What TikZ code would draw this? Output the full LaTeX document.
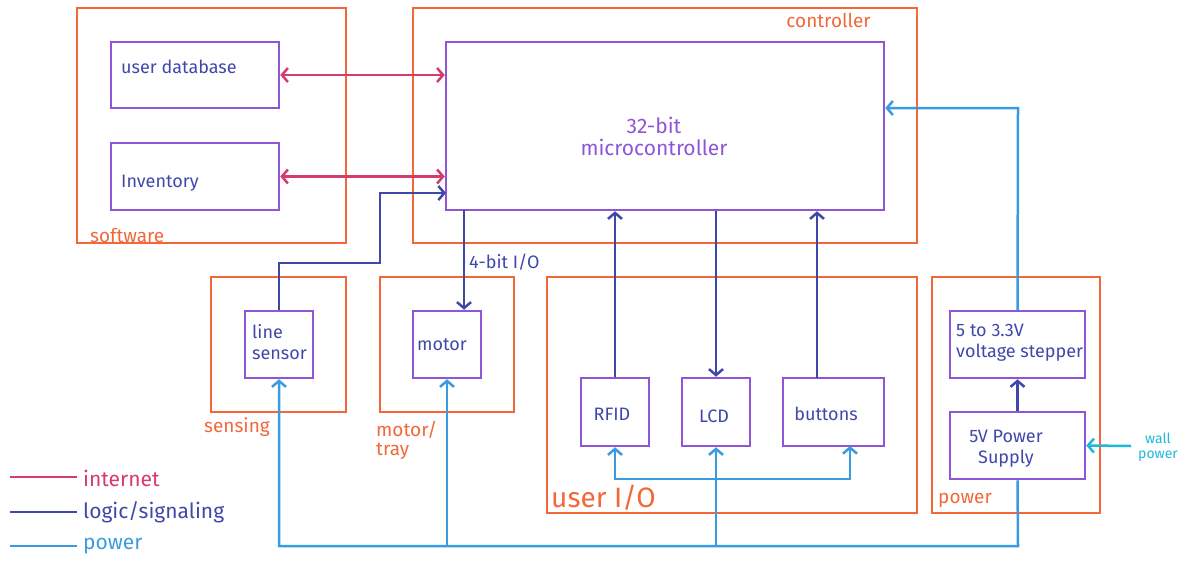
\documentclass[tikz,border=0pt]{standalone}
\usepackage{fontspec}
\setmainfont{Fira Sans}
\usetikzlibrary{arrows.meta}
\definecolor{grp}{HTML}{F2683A}
\definecolor{boxc}{HTML}{8E55D6}
\definecolor{logic}{HTML}{3F48AA}
\definecolor{inet}{HTML}{D63B6E}
\definecolor{pwr}{HTML}{3A9BE0}
\definecolor{wall}{HTML}{1FB8D8}
\tikzset{
  grpbox/.style={draw=grp, line width=2.5pt, inner sep=0pt, rectangle},
  pbox/.style={draw=boxc, line width=2.5pt, inner sep=0pt, rectangle},
  txt/.style={text=logic, font=\fontsize{18}{21}\selectfont, inner sep=0pt, align=left},
  glabel/.style={text=grp, font=\fontsize{19}{19}\selectfont, inner sep=0pt, align=left},
  barb/.tip={Straight Barb[length=6pt,width=14pt,line width=2.5pt]},
  inetline/.style={draw=inet, line width=2.5pt},
  logicline/.style={draw=logic, line width=2.5pt},
  pwrline/.style={draw=pwr, line width=2.5pt},
}
\begin{document}
\begin{tikzpicture}[x=1pt,y=-1pt]
\useasboundingbox (0,0) rectangle (1185,562);
% group boxes
\node[grpbox, minimum width=269pt, minimum height=235pt] (soft) at (211.5,125.5) {};
\node[grpbox, minimum width=504pt, minimum height=235pt] (ctrl) at (665,125.5) {};
\node[grpbox, minimum width=135pt, minimum height=135pt] (sens) at (278.5,344.5) {};
\node[grpbox, minimum width=134pt, minimum height=135pt] (mtray) at (447,344.5) {};
\node[grpbox, minimum width=370pt, minimum height=236pt] (uio) at (732,395) {};
\node[grpbox, minimum width=168pt, minimum height=236pt] (pwrg) at (1016,395) {};
% inner boxes
\node[pbox, minimum width=168pt, minimum height=66pt] (udb) at (195,75) {};
\node[pbox, minimum width=168pt, minimum height=67pt] (inv) at (195,176.5) {};
\node[pbox, minimum width=438pt, minimum height=168pt] (mcu) at (665,126) {};
\node[pbox, minimum width=68pt, minimum height=67pt] (ls) at (279,344.5) {};
\node[pbox, minimum width=68pt, minimum height=67pt] (motor) at (447,344.5) {};
\node[pbox, minimum width=68pt, minimum height=68pt] (rfid) at (615,412) {};
\node[pbox, minimum width=68pt, minimum height=68pt] (lcd) at (716,412) {};
\node[pbox, minimum width=101pt, minimum height=68pt] (btn) at (833.5,412) {};
\node[pbox, minimum width=135pt, minimum height=67pt] (step) at (1017.5,344.5) {};
\node[pbox, minimum width=135pt, minimum height=67pt] (sup) at (1017.5,445.5) {};
% texts
\node[txt, anchor=west] (tudb) at (121,67) {user database};
\node[txt, anchor=west] (tinv) at (121,183) {Inventory};
\node[txt, text=boxc, font=\fontsize{21}{22}\selectfont, align=center] (tmcu) at (654,136) {32-bit\\microcontroller};
\node[txt, anchor=west] (tls) at (252,342) {line\\sensor};
\node[txt, anchor=west] (tmot) at (417,345) {motor};
\node[txt] (trfid) at (612,414) {RFID};
\node[txt] (tlcd) at (714,416) {LCD};
\node[txt] (tbtn) at (826,414) {buttons};
\node[txt, anchor=west] (tstep) at (956,343) {5 to 3.3V\\voltage stepper};
\node[txt, align=center] (tsup) at (1006,449) {5V Power\\Supply};
\node[txt, anchor=west] (t4b) at (469,262) {4-bit I/O};
\node[glabel, anchor=west] (lsoft) at (90,235) {software};
\node[glabel, anchor=east] (lctrl) at (871,20) {controller};
\node[glabel, anchor=west] (lsens) at (204,427) {sensing};
\node[glabel, anchor=west] (lmt) at (376,440) {motor/\\tray};
\node[glabel, anchor=west, font=\fontsize{28}{30}\selectfont] (luio) at (551,498) {user I/O};
\node[glabel, anchor=west] (lpwr) at (938,500) {power};
\node[txt, text=wall, font=\fontsize{14}{15}\selectfont, align=center] (twall) at (1158,447) {wall\\power};
% legend
\coordinate (lg1a) at (10,477); \coordinate (lg1b) at (77,477);
\coordinate (lg2a) at (10,512); \coordinate (lg2b) at (77,512);
\coordinate (lg3a) at (10,546); \coordinate (lg3b) at (77,546);
\draw[inetline] (lg1a) -- (lg1b);
\draw[logicline] (lg2a) -- (lg2b);
\draw[pwrline] (lg3a) -- (lg3b);
\node[txt, text=inet, anchor=west, font=\fontsize{21}{22}\selectfont] (leg1) at (83,478) {internet};
\node[txt, anchor=west, font=\fontsize{21}{22}\selectfont] (leg2) at (83,512) {logic/signaling};
\node[txt, text=pwr, anchor=west, font=\fontsize{21}{22}\selectfont] (leg3) at (83,546) {power};
% internet connectors
\draw[inetline, barb-barb] (udb.east) -- (udb.east -| mcu.west);
\draw[inetline, barb-barb] (inv.east) -- (inv.east -| mcu.west);
% logic connectors
\coordinate (lsbend) at (380,263);
\coordinate (mcuin) at (446,193);
\draw[logicline, -barb] (ls.north) |- (lsbend) |- (mcuin);
\coordinate (mcuout) at (464,210);
\draw[logicline, -barb] (mcuout) -- (mcuout |- motor.north);
\draw[logicline, -barb] (rfid.north) -- (rfid.north |- mcu.south);
\draw[logicline, -barb] (lcd.north |- mcu.south) -- (lcd.north);
\coordinate (btntop) at (817,378);
\draw[logicline, -barb] (btntop) -- (btntop |- mcu.south);
\draw[logicline, -barb] (sup.north) -- (step.south);
% power connectors
\coordinate (stepbend) at (1018,108);
\draw[pwrline, -barb] (step.north) -- (stepbend) -- (stepbend -| mcu.east);
\coordinate (pbus) at (1018,546);
\draw[pwrline, -barb] (sup.south) -- (pbus) -- (pbus -| ls.south) -- (ls.south);
\draw[pwrline, -barb] (pbus -| motor.south) -- (motor.south);
\draw[pwrline, -barb] (pbus -| lcd.south) -- (lcd.south);
\coordinate (btnbot) at (850,446);
\coordinate (ubus) at (850,479);
\draw[pwrline, barb-barb] (rfid.south) |- (ubus) -- (btnbot);
\coordinate (wallsrc) at (1131,446);
\draw[draw=wall, line width=2.5pt, -barb] (wallsrc) -- (sup.east);
\end{tikzpicture}
\end{document}
